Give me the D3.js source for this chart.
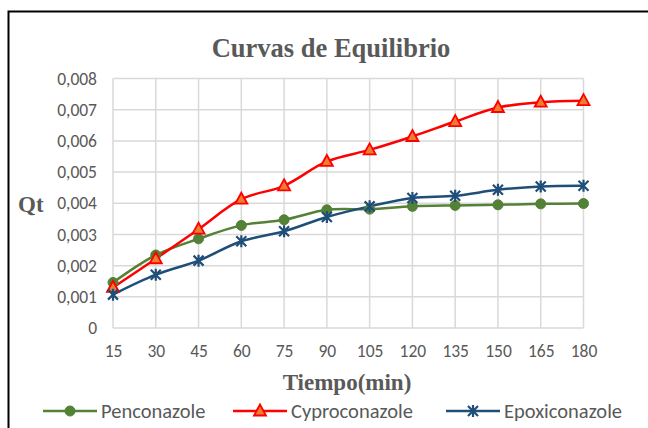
<!DOCTYPE html>
<html><head><meta charset="utf-8">
<script src="https://cdn.jsdelivr.net/npm/d3@7"></script>
<style>
html,body{margin:0;padding:0;background:#fff;}
svg{display:block;}
</style></head>
<body>
<svg id="chart" width="648" height="428"></svg>
<script>
const times = [15, 30, 45, 60, 75, 90, 105, 120, 135, 150, 165, 180];
const penconazole = [0.00146, 0.00234, 0.00286, 0.00329, 0.00347, 0.00379, 0.00381, 0.00390, 0.00393, 0.00395, 0.00398, 0.00399];
const cyproconazole = [0.00130, 0.00222, 0.00317, 0.00413, 0.00456, 0.00534, 0.00571, 0.00614, 0.00662, 0.00707, 0.00724, 0.00729];
const epoxiconazole = [0.00107, 0.00171, 0.00216, 0.00278, 0.00310, 0.00356, 0.00390, 0.00417, 0.00424, 0.00443, 0.00454, 0.00456];
const yTicks = [0, 0.001, 0.002, 0.003, 0.004, 0.005, 0.006, 0.007, 0.008];
const seriesNames = ["Penconazole", "Cyproconazole", "Epoxiconazole"];
const title = "Curvas de Equilibrio";
const xTitle = "Tiempo(min)";
const yTitle = "Qt";

const series = [
  {name: seriesNames[0], values: penconazole, color: "#538135", marker: "circle"},
  {name: seriesNames[1], values: cyproconazole, color: "#ff0000", marker: "triangle"},
  {name: seriesNames[2], values: epoxiconazole, color: "#1f4e79", marker: "star"}
];

const svg = d3.select("#chart");
const labelFont = "Carlito, Calibri, 'Liberation Sans Narrow', 'Open Sans', sans-serif";
const serif = "'Liberation Serif', 'Times New Roman', serif";
const textColor = "#595959";

// outer border
svg.append("rect").attr("x", 8.5).attr("y", 11.5).attr("width", 660).attr("height", 440)
  .attr("fill", "none").attr("stroke", "#000").attr("stroke-width", 2);

const x = d3.scaleLinear().domain([15, 180]).range([113, 583.5]);
const y = d3.scaleLinear().domain([0, 0.008]).range([328, 78.5]);

const grid = svg.append("g");
grid.selectAll("line.v").data(times).enter().append("line")
  .attr("x1", d => x(d)).attr("x2", d => x(d)).attr("y1", y(0.008)).attr("y2", y(0))
  .attr("stroke", "#d9d9d9").attr("stroke-width", 1.5);
grid.selectAll("line.h").data(yTicks).enter().append("line")
  .attr("x1", x(15)).attr("x2", x(180)).attr("y1", d => y(d)).attr("y2", d => y(d))
  .attr("stroke", "#d9d9d9").attr("stroke-width", 1.5);

// y axis labels
const yAxis = d3.axisLeft(y).tickValues(yTicks).tickSize(0).tickPadding(16)
  .tickFormat(d => d === 0 ? "0" : d3.format(".3f")(d).replace(".", ","));
const ya = svg.append("g").attr("transform", `translate(${x(15)},0)`).call(yAxis);
ya.select(".domain").remove();
ya.selectAll("text").attr("font-family", labelFont).attr("font-size", 17.5).attr("fill", textColor);

// x axis labels
const xAxis = d3.axisBottom(x).tickValues(times).tickSize(0).tickPadding(17).tickFormat(d3.format("d"));
const xa = svg.append("g").attr("transform", `translate(0,${y(0)})`).call(xAxis);
xa.select(".domain").remove();
xa.selectAll("text").attr("font-family", labelFont).attr("font-size", 17.5).attr("fill", textColor);

// titles
svg.append("text").attr("x", 331).attr("y", 57).attr("text-anchor", "middle")
  .attr("font-family", serif).attr("font-weight", "bold").attr("font-size", 26.5).attr("fill", textColor).text(title);
svg.append("text").attr("x", 347).attr("y", 390).attr("text-anchor", "middle")
  .attr("font-family", serif).attr("font-weight", "bold").attr("font-size", 23).attr("fill", textColor).text(xTitle);
svg.append("text").attr("x", 18).attr("y", 212).attr("text-anchor", "start")
  .attr("font-family", serif).attr("font-weight", "bold").attr("font-size", 23).attr("fill", textColor).text(yTitle);

function drawMarker(g, type, color) {
  if (type === "circle") {
    g.append("circle").attr("r", 5).attr("fill", color).attr("stroke", color);
  } else if (type === "triangle") {
    g.append("path").attr("d", "M0,-6.5 L6,4.5 L-6,4.5 Z").attr("fill", "#ed7d31")
      .attr("stroke", "#ff0000").attr("stroke-width", 1.8);
  } else {
    g.append("path").attr("d", "M-5,-5 L5,5 M-5,5 L5,-5 M0,-6 L0,6").attr("stroke", color)
      .attr("stroke-width", 2.2).attr("fill", "none");
  }
}

const line = d3.line().x((d, i) => x(times[i])).y(d => y(d)).curve(d3.curveCatmullRom.alpha(0.5));
series.forEach(s => {
  svg.append("path").datum(s.values).attr("d", line).attr("fill", "none")
    .attr("stroke", s.color).attr("stroke-width", 2.5).attr("stroke-linejoin", "round");
});
series.forEach(s => {
  s.values.forEach((v, i) => {
    const g = svg.append("g").attr("transform", `translate(${x(times[i])},${y(v)})`);
    drawMarker(g, s.marker, s.color);
  });
});

// legend
const legendX = [43, 233, 446];
series.forEach((s, i) => {
  const lg = svg.append("g").attr("transform", `translate(${legendX[i]},411)`);
  lg.append("line").attr("x1", 0).attr("x2", 54).attr("y1", 0).attr("y2", 0)
    .attr("stroke", s.color).attr("stroke-width", 2.5);
  const mg = lg.append("g").attr("transform", "translate(27,0)");
  drawMarker(mg, s.marker, s.color);
  lg.append("text").attr("x", 58).attr("y", 7).attr("font-family", labelFont)
    .attr("font-size", 20.5).attr("fill", textColor).text(s.name);
});
</script>
</body></html>
